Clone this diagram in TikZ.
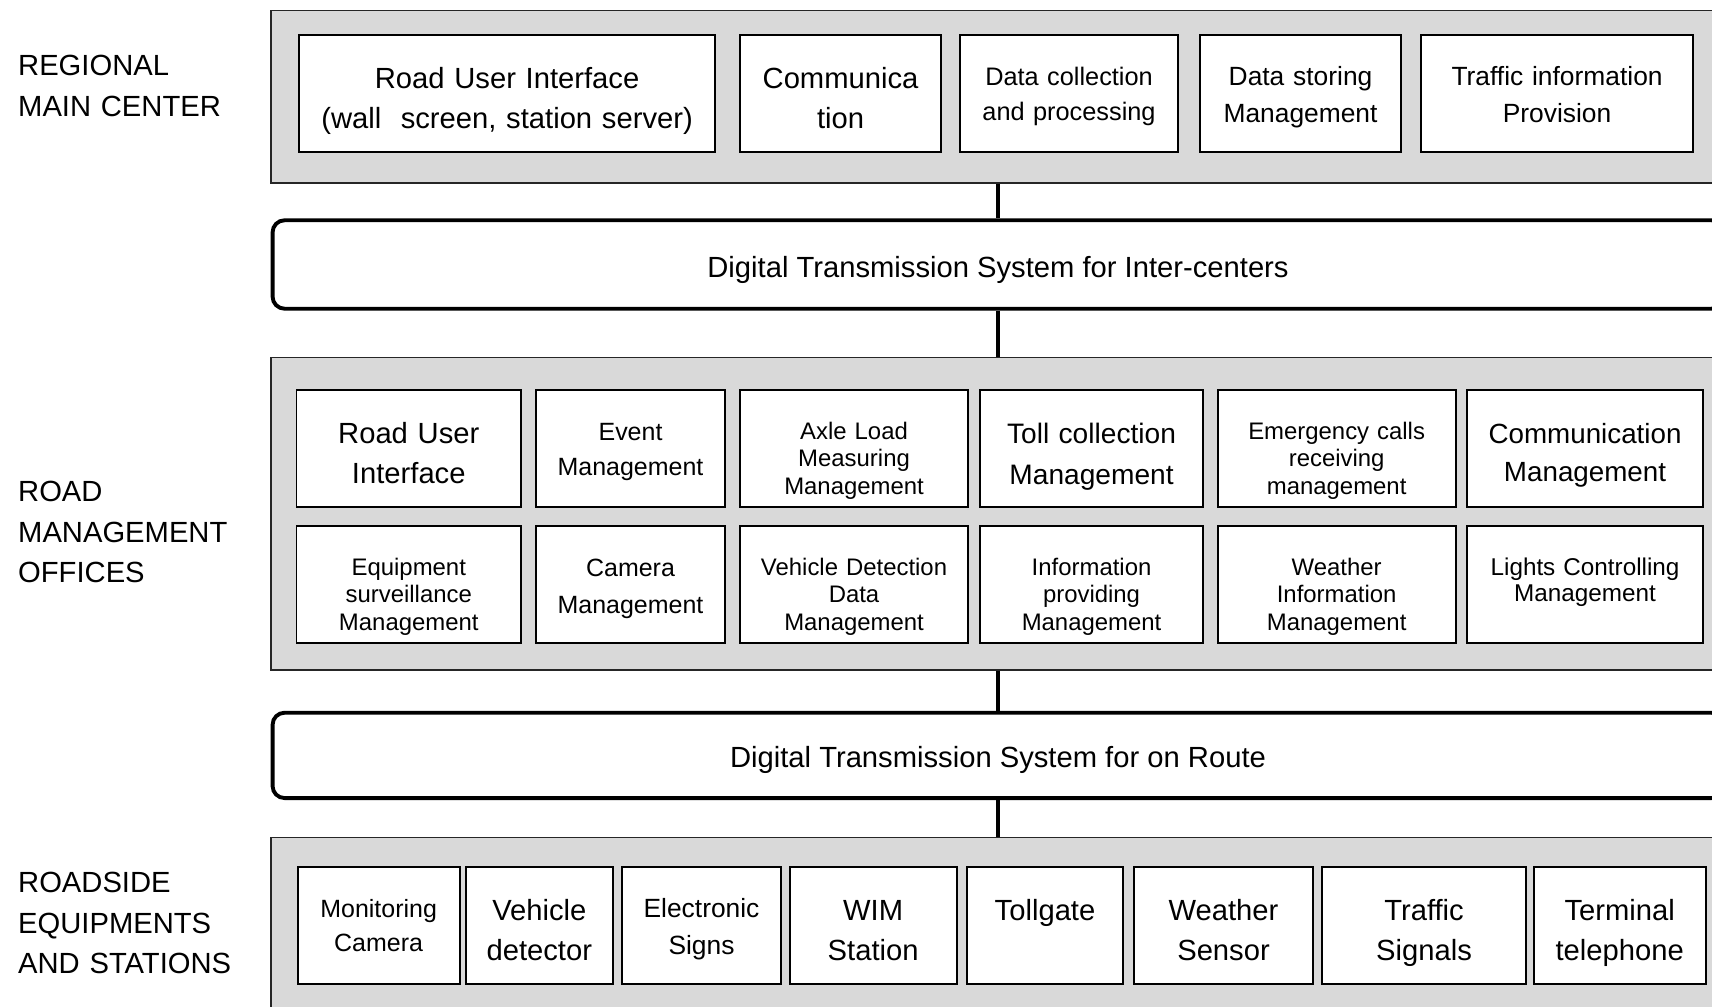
\documentclass[tikz,border=0pt]{standalone}
\usepackage{fontspec}
\setmainfont{Liberation Sans}
\usepackage{tikz}

\begin{document}
\begin{tikzpicture}[x=0.01cm, y=-0.01cm]
    % ================= 样式定义 =================
    \tikzset{
        % 灰色底板 (各层)
        panel/.style={draw=black!85, line width=0.45pt, fill=black!15, inner sep=0pt, minimum width=14.53cm},
        % 白底黑边功能框, 文字顶端对齐
        fbox/.style={draw=black, line width=0.55pt, fill=white, inner sep=0pt, anchor=north west, align=center},
        bigtxt/.style={font=\fontsize{8.3}{11.5}\selectfont, text height=0.535cm, text depth=0.635cm},
        midtxt/.style={font=\fontsize{7.3}{10.3}\selectfont, text height=0.505cm, text depth=0.665cm},
        smltxt/.style={font=\fontsize{6.8}{7.8}\selectfont, text height=0.495cm, text depth=0.675cm},
        % 圆角传输总线
        bus/.style={draw=black, line width=1.1pt, rounded corners=0.12cm, fill=white, inner sep=0pt, minimum width=14.5cm, font=\fontsize{8.3}{11.5}\selectfont},
        % 竖直连线
        link/.style={line width=1.1pt, black},
        % 左侧层名
        layer/.style={anchor=base west, align=left, text width=5cm, inner sep=0pt, font=\fontsize{8.3}{11.5}\selectfont}
    }

    \useasboundingbox (0,0) rectangle (1712,1007);
    \clip (0,0) rectangle (1712,1007);

    % ================= 左侧层名 =================
    \node[layer] (lrmc) at (17.5,76) {REGIONAL\\MAIN CENTER};
    \node[layer] (lrmo) at (17.5,501.7) {ROAD\\MANAGEMENT\\OFFICES};
    \node[layer] (lrse) at (17.5,892.6) {ROADSIDE\\EQUIPMENTS\\AND STATIONS};

    % ================= 底板与总线 =================
    \node[panel, minimum height=1.723cm] (rmc) at (998,96.85) {};
    \node[bus, text height=0.577cm, text depth=0.307cm] (bus1) at (998,264.5) {Digital Transmission System for Inter-centers};
    \node[panel, minimum height=3.126cm] (rmo) at (998,513.7) {};
    \node[bus, text height=0.543cm, text depth=0.31cm] (bus2) at (998,755.4) {Digital Transmission System for on Route};
    \node[panel, minimum height=1.926cm] (rse) at (998,933.7) {};

    \draw[link] (rmc.south) -- (bus1.north);
    \draw[link] (bus1.south) -- (rmo.north);
    \draw[link] (rmo.south) -- (bus2.north);
    \draw[link] (bus2.south) -- (rse.north);

    % ================= 区域主中心 =================
    \node[fbox, bigtxt, text width=4.16cm] (rui) at (298,34) {Road User Interface\\(wall\ \ screen, station server)};
    \node[fbox, bigtxt, text width=2.01cm] (com) at (739,34) {Communica\\tion};
    \node[fbox, midtxt, text width=2.18cm, font=\fontsize{7.2}{9.9}\selectfont] (dcp) at (959,34) {Data collection\\and processing};
    \node[fbox, midtxt, text width=2.01cm, font=\fontsize{7.5}{10.5}\selectfont] (dsm) at (1199,34) {Data storing\\Management};
    \node[fbox, midtxt, text width=2.72cm, font=\fontsize{7.5}{10.5}\selectfont] (tip) at (1420,34) {Traffic information\\Provision};

    % ================= 道路管理所 =================
    \node[fbox, bigtxt, text width=2.245cm] (rui2) at (295.5,389) {Road User\\Interface};
    \node[fbox, midtxt, text width=1.89cm, font=\fontsize{7.1}{10}\selectfont] (evm) at (535,389) {Event\\Management};
    \node[fbox, smltxt, text width=2.28cm] (alm) at (739,389) {Axle Load\\Measuring\\Management};
    \node[fbox, bigtxt, text width=2.23cm, font=\fontsize{8}{11.8}\selectfont] (tcm) at (979,389) {Toll collection\\Management};
    \node[fbox, smltxt, text width=2.38cm] (ecm) at (1216.6,389) {Emergency calls\\receiving\\management};
    \node[fbox, bigtxt, text width=2.36cm, font=\fontsize{7.9}{10.9}\selectfont] (cmm) at (1466,389) {Communication\\Management};

    \node[fbox, smltxt, text width=2.245cm] (esm) at (295.5,525) {Equipment\\surveillance\\Management};
    \node[fbox, midtxt, text width=1.89cm, font=\fontsize{7.1}{10.5}\selectfont] (cam) at (535,525) {Camera\\Management};
    \node[fbox, smltxt, text width=2.28cm] (vdd) at (739,525) {Vehicle Detection\\Data\\Management};
    \node[fbox, smltxt, text width=2.23cm] (ipm) at (979,525) {Information\\providing\\Management};
    \node[fbox, smltxt, text width=2.38cm] (wim) at (1216.6,525) {Weather\\Information\\Management};
    \node[fbox, smltxt, text width=2.36cm, font=\fontsize{6.9}{7.4}\selectfont] (lcm) at (1466,525) {Lights Controlling\\Management};

    % ================= 路侧设备 =================
    \node[fbox, midtxt, text width=1.62cm, font=\fontsize{7.1}{9.6}\selectfont] (mcam) at (296.6,866) {Monitoring\\Camera};
    \node[fbox, bigtxt, text width=1.47cm] (vdet) at (464.8,866) {Vehicle\\detector};
    \node[fbox, midtxt, text width=1.59cm, font=\fontsize{7.5}{10.5}\selectfont] (esig) at (621,866) {Electronic\\Signs};
    \node[fbox, bigtxt, text width=1.67cm] (wims) at (788.6,866) {WIM\\Station};
    \node[fbox, bigtxt, text width=1.56cm] (tollg) at (966,866) {Tollgate};
    \node[fbox, bigtxt, text width=1.79cm] (wsen) at (1133,866) {Weather\\Sensor};
    \node[fbox, bigtxt, text width=2.04cm] (tsig) at (1321,866) {Traffic\\Signals};
    \node[fbox, bigtxt, text width=1.72cm] (ttel) at (1532.7,866) {Terminal\\telephone};

\end{tikzpicture}
\end{document}
